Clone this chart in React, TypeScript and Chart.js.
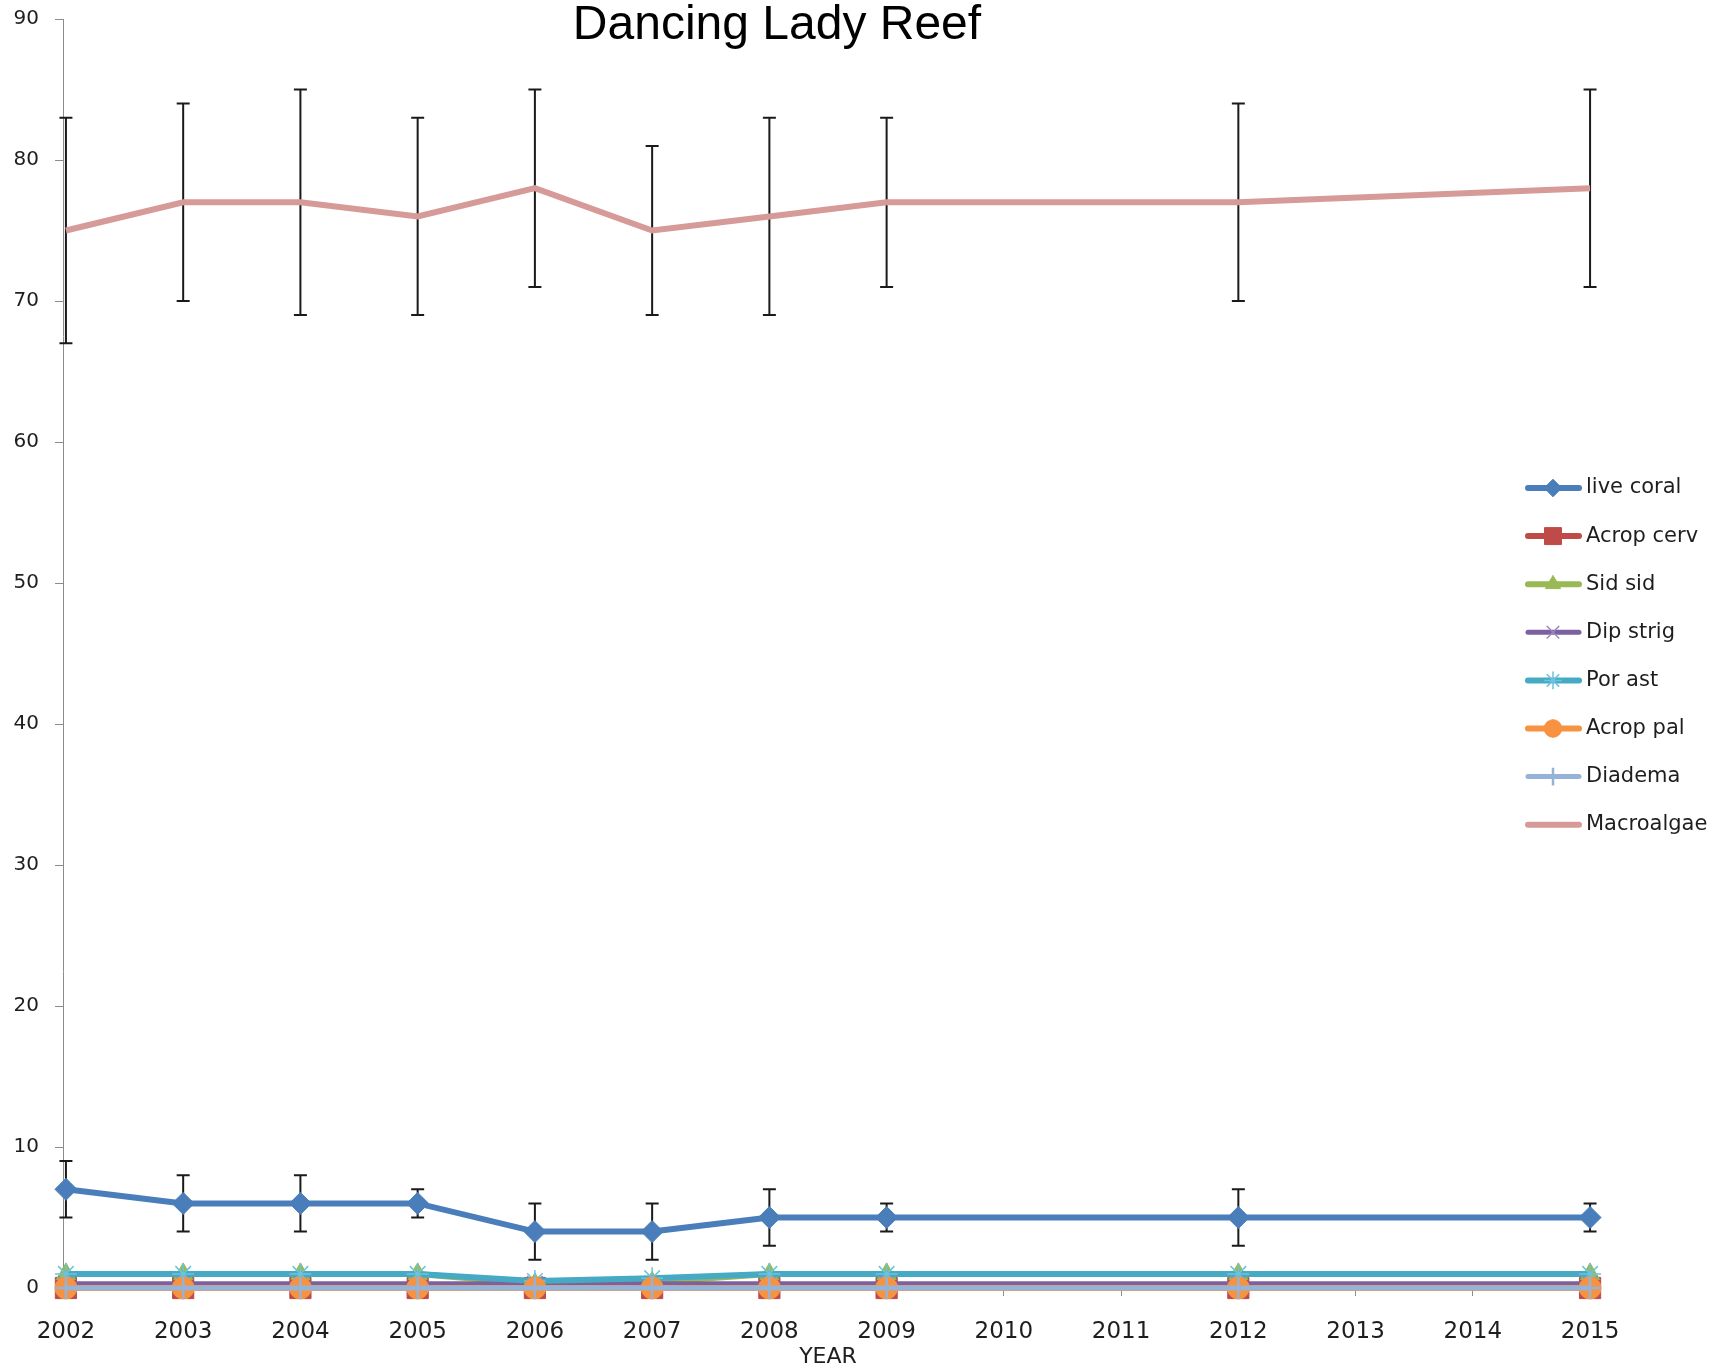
import React, { useEffect, useRef } from 'react';
import { Chart, registerables } from 'chart.js';
import { drawPoint } from 'chart.js/helpers';

Chart.register(...registerables);

// ---------- data ----------
const chartTitle = 'Dancing Lady Reef';
const xAxisTitle = 'YEAR';
const years = [2002, 2003, 2004, 2005, 2006, 2007, 2008, 2009, 2012, 2015];
const xTickYears = [2002, 2003, 2004, 2005, 2006, 2007, 2008, 2009, 2010, 2011, 2012, 2013, 2014, 2015];
const yTickValues = [0, 10, 20, 30, 40, 50, 60, 70, 80, 90];

const liveCoral = [7, 6, 6, 6, 4, 4, 5, 5, 5, 5];
const liveCoralErr = [2, 2, 2, 1, 2, 2, 2, 1, 2, 1];
const acropCerv = [0, 0, 0, 0, 0, 0, 0, 0, 0, 0];
const sidSid = [1, 1, 1, 1, 0.3, 0.4, 1, 1, 1, 1];
const dipStrig = [0.3, 0.3, 0.3, 0.3, 0.3, 0.3, 0.3, 0.3, 0.3, 0.3];
const porAst = [1, 1, 1, 1, 0.5, 0.7, 1, 1, 1, 1];
const acropPal = [0, 0, 0, 0, 0, 0, 0, 0, 0, 0];
const diadema = [0, 0, 0, 0, 0, 0, 0, 0, 0, 0];
const macroalgae = [75, 77, 77, 76, 78, 75, 76, 77, 77, 78];
const macroalgaeErr = [8, 7, 8, 7, 7, 6, 7, 6, 7, 7];

const FONT = '"DejaVu Sans", sans-serif';
const TEXT = '#1e1e1e';
const AXIS = '#8c8c8c';

const toPoints = (vals: number[]) => years.map((x, i) => ({ x, y: vals[i] }));

function series(
  label: string,
  vals: number[],
  color: string,
  markerColor: string,
  pointStyle: any,
  radius: number,
  lineWidth: number,
  markerBorder: number,
  errors?: number[]
) {
  return {
    label,
    data: toPoints(vals),
    borderColor: color,
    backgroundColor: color,
    borderWidth: lineWidth,
    pointStyle,
    pointRadius: radius,
    pointHoverRadius: radius,
    pointBackgroundColor: markerColor,
    pointBorderColor: markerColor,
    pointBorderWidth: markerBorder,
    tension: 0,
    clip: false as any,
    errorBars: errors,
  } as any;
}

const errorBarPlugin = {
  id: 'errorBars',
  beforeDatasetDraw(chart: any, args: any) {
    const ds = chart.data.datasets[args.index];
    const errs: number[] | undefined = ds.errorBars;
    if (!errs) return;
    const yScale = chart.scales.y;
    const ctx = chart.ctx;
    ctx.save();
    ctx.strokeStyle = '#1a1a1a';
    ctx.lineWidth = 2;
    const cap = 6.5;
    args.meta.data.forEach((pt: any, i: number) => {
      const v = ds.data[i].y;
      const e = errs[i];
      const yt = yScale.getPixelForValue(v + e);
      const yb = yScale.getPixelForValue(v - e);
      const x = pt.x;
      ctx.beginPath();
      ctx.moveTo(x, yt);
      ctx.lineTo(x, yb);
      ctx.moveTo(x - cap, yt);
      ctx.lineTo(x + cap, yt);
      ctx.moveTo(x - cap, yb);
      ctx.lineTo(x + cap, yb);
      ctx.stroke();
    });
    ctx.restore();
  },
};

const titlePlugin = {
  id: 'topTitle',
  afterDraw(chart: any) {
    const ctx = chart.ctx;
    ctx.save();
    ctx.font = '48px "Liberation Sans", Arial, sans-serif';
    ctx.fillStyle = '#000';
    ctx.textAlign = 'center';
    ctx.textBaseline = 'alphabetic';
    ctx.fillText(chartTitle, 777, 39);
    ctx.restore();
  },
};

const legendPlugin = {
  id: 'sideLegend',
  afterDraw(chart: any) {
    const ctx = chart.ctx;
    ctx.save();
    chart.data.datasets.forEach((ds: any, i: number) => {
      const y = 488 + i * 48.1;
      ctx.strokeStyle = ds.borderColor;
      ctx.lineWidth = ds.borderWidth;
      ctx.lineCap = 'round';
      ctx.beginPath();
      ctx.moveTo(1528, y);
      ctx.lineTo(1579, y);
      ctx.stroke();
      if (ds.pointRadius > 0) {
        ctx.fillStyle = ds.pointBackgroundColor;
        ctx.strokeStyle = ds.pointBorderColor;
        ctx.lineWidth = ds.pointBorderWidth;
        ctx.lineCap = 'butt';
        drawPoint(ctx, { pointStyle: ds.pointStyle, radius: ds.pointRadius * 0.8, borderWidth: ds.pointBorderWidth, rotation: 0 } as any, 1553, y);
      }
      ctx.fillStyle = TEXT;
      ctx.font = '21px ' + FONT;
      ctx.textAlign = 'left';
      ctx.textBaseline = 'middle';
      ctx.fillText(ds.label, 1586, y);
    });
    ctx.restore();
  },
};

export default function App() {
  const ref = useRef<HTMLCanvasElement>(null);
  useEffect(() => {
    const canvas = ref.current!;
    const datasets = [
      series('live coral', liveCoral, '#4A7EBB', '#4A7EBB', 'rectRot', 11, 6, 1, liveCoralErr),
      series('Acrop cerv', acropCerv, '#BE4B48', '#BE4B48', 'rect', 15, 6, 1),
      series('Sid sid', sidSid, '#98B954', '#98B954', 'triangle', 11, 6, 1),
      series('Dip strig', dipStrig, '#7D60A0', '#9B87C0', 'crossRot', 11, 5, 1.5),
      series('Por ast', porAst, '#46AAC5', '#6CC3DB', 'star', 11, 6, 1.5),
      series('Acrop pal', acropPal, '#F69240', '#F69240', 'circle', 11, 6, 1),
      series('Diadema', diadema, '#95B3D7', '#95B3D7', 'cross', 11, 5, 2.5),
      series('Macroalgae', macroalgae, '#D69A98', '#D69A98', 'circle', 0, 6, 1, macroalgaeErr),
    ];
    datasets.forEach((d, i) => (d.order = datasets.length - i));

    const chart = new Chart(canvas, {
      type: 'line',
      data: { datasets },
      options: {
        animation: false,
        responsive: false,
        devicePixelRatio: 1,
        layout: { padding: { left: 0, top: 19, right: 118, bottom: 0 } },
        plugins: {
          legend: { display: false },
          title: { display: false },
          tooltip: { enabled: false },
        },
        scales: {
          x: {
            type: 'linear',
            min: 2001.975,
            max: 2015.025,
            afterBuildTicks: (s: any) => {
              s.ticks = xTickYears.map((v) => ({ value: v }));
            },
            afterFit: (s: any) => {
              s.height = 80;
              s.paddingLeft = 0;
              s.paddingRight = 0;
            },
            grid: { drawOnChartArea: false, drawTicks: true, tickLength: 8, tickColor: AXIS, tickWidth: 1 },
            border: { display: true, color: AXIS, width: 1 },
            ticks: {
              font: { family: FONT, size: 23 },
              color: TEXT,
              padding: 22,
              autoSkip: false,
              maxRotation: 0,
              callback: (v: any) => String(v),
            },
            title: {
              display: true,
              text: xAxisTitle,
              font: { family: FONT, size: 22, lineHeight: 1 },
              color: TEXT,
              padding: { top: 0, bottom: 0 },
            },
          },
          y: {
            type: 'linear',
            min: 0,
            max: 90,
            afterBuildTicks: (s: any) => {
              s.ticks = yTickValues.map((v) => ({ value: v }));
            },
            afterFit: (s: any) => {
              s.width = 63;
              s.paddingTop = 0;
              s.paddingBottom = 0;
            },
            grid: { drawOnChartArea: false, drawTicks: true, tickLength: 8, tickColor: AXIS, tickWidth: 1 },
            border: { display: true, color: AXIS, width: 1 },
            ticks: {
              font: { family: FONT, size: 20 },
              color: TEXT,
              padding: 16,
              callback: (v: any) => String(v),
            },
          },
        },
      } as any,
      plugins: [errorBarPlugin, titlePlugin, legendPlugin],
    });
    return () => chart.destroy();
  }, []);

  return (
    <div style={{ position: 'absolute', left: 0, top: 0, width: 1711, height: 1368, background: '#fff' }}>
      <canvas ref={ref} width={1711} height={1368} style={{ width: 1711, height: 1368, display: 'block' }} />
    </div>
  );
}
